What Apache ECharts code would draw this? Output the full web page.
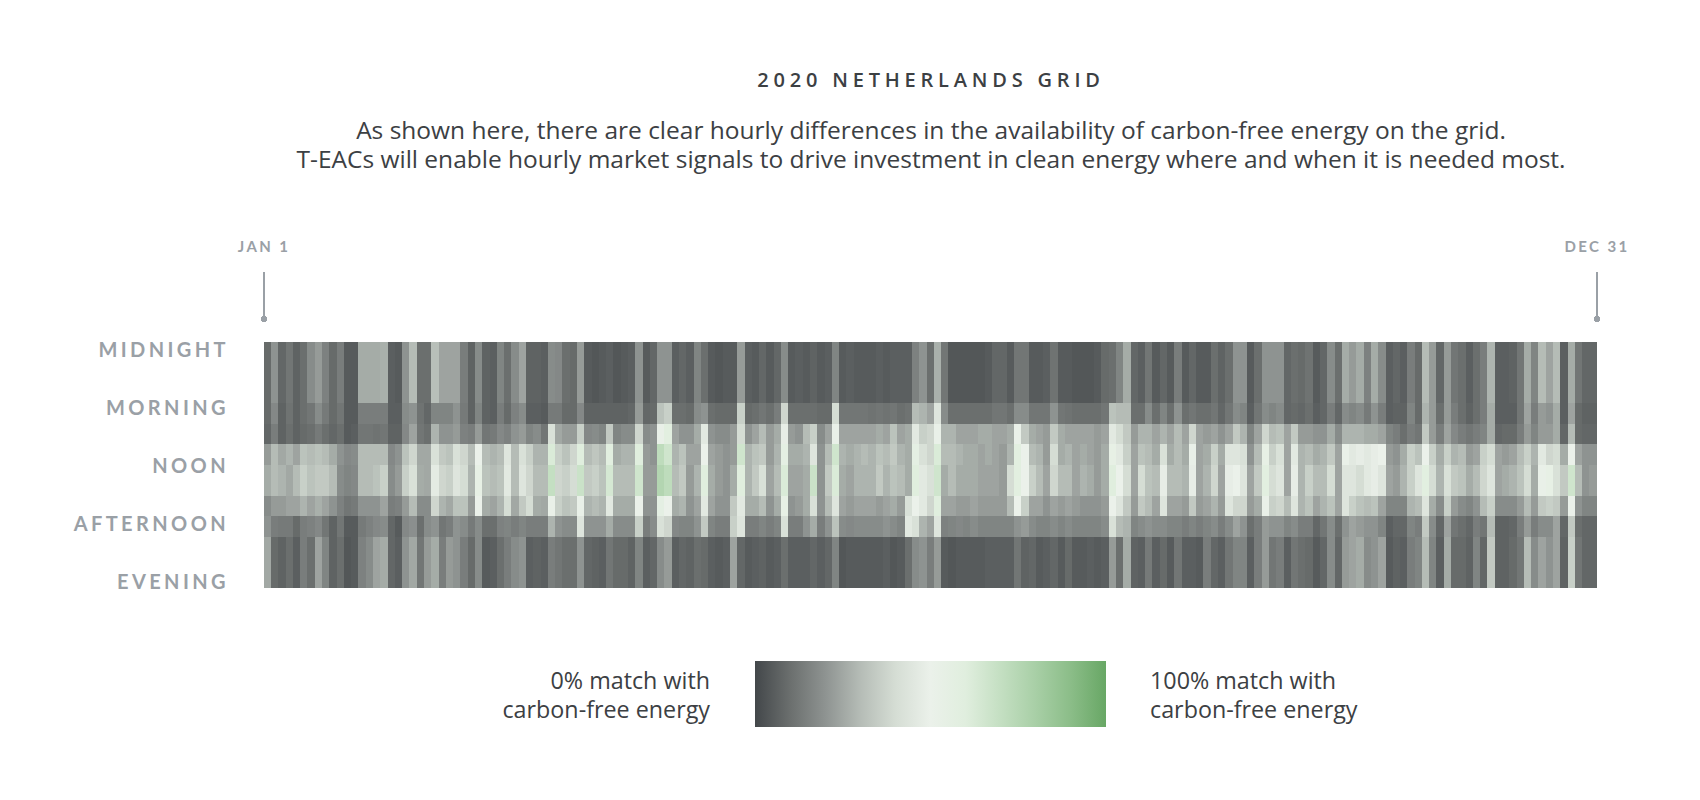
<!DOCTYPE html>
<html><head><meta charset="utf-8">
<style>html,body{margin:0;padding:0;background:#fff}#chart{width:1700px;height:800px}#chart svg path{shape-rendering:crispEdges}</style>
<script src="https://cdn.jsdelivr.net/npm/echarts@6/dist/echarts.min.js"></script>
</head><body><div id="chart"></div>
<script>
// Two-day columns across the year; values are % match.
const hours0to5=[
9,20,8,12,7,10,18,22,15,9,14,5,5,26,26,26,27,6,5,20,30,10,10,31,24,24,
24,14,7,18,7,6,16,10,18,24,7,7,6,18,17,10,9,22,5,4,5,6,4,5,6,20,
5,8,20,20,6,8,6,16,10,5,4,5,5,22,6,5,8,5,8,18,5,6,5,7,5,6,
16,5,6,5,5,5,6,5,6,6,6,15,20,10,27,12,4,4,4,4,4,5,8,8,5,12,
12,5,5,6,11,5,5,4,4,4,5,9,10,16,26,8,6,12,5,8,5,14,5,8,5,5,
10,7,10,20,20,5,10,20,20,20,8,10,9,11,5,8,18,10,26,22,26,15,26,18,6,8,
6,14,9,30,22,8,22,12,10,6,10,14,28,6,6,7,12,26,16,30,24,30,6,26,12,8,8];
const hours6to7=[
9,17,7,11,7,10,12,18,13,9,12,5,5,14,14,14,14,6,6,18,20,11,8,16,16,16,
20,13,7,16,7,6,14,9,15,18,6,6,5,13,13,9,9,17,7,7,7,7,7,7,8,22,
8,9,32,36,10,10,9,18,20,10,9,9,9,36,9,10,12,10,14,38,10,10,10,10,9,9,
40,12,12,12,12,11,12,11,12,10,11,30,28,24,44,18,10,10,10,10,10,10,12,12,10,18,
18,12,12,12,20,12,11,10,10,10,10,12,32,30,30,10,10,18,10,16,10,20,10,12,10,10,
12,8,12,18,16,6,12,18,16,18,8,9,8,10,6,8,14,8,18,16,18,13,20,14,6,7,
7,16,9,28,22,10,22,14,10,7,10,14,26,6,6,6,12,24,14,22,20,26,6,24,9,7,7];
const hours8to9=[
8,14,7,10,7,9,10,13,10,8,10,5,6,12,12,11,12,7,7,17,24,12,10,28,20,20,
22,15,14,22,12,13,17,15,20,22,16,18,12,42,25,22,22,36,17,18,16,34,16,18,18,38,
18,20,52,58,24,20,20,26,46,20,18,18,22,40,20,24,30,22,26,48,22,20,30,36,18,24,
52,24,24,24,24,24,26,24,32,24,26,46,36,38,52,28,28,24,24,24,26,26,24,24,26,52,
34,26,24,22,34,26,24,24,24,24,22,24,46,40,34,22,28,28,24,28,24,30,24,38,24,22,
24,20,24,34,28,16,24,38,30,32,24,34,22,22,20,20,26,18,28,28,28,26,26,24,16,14,
10,14,12,34,22,14,24,17,14,12,14,16,26,8,9,9,14,22,16,22,22,26,8,30,9,8,8];
const hours10to11=[
22,30,25,28,24,32,30,32,30,26,20,17,18,30,30,30,30,17,20,32,38,25,25,42,34,32,
42,38,30,50,30,28,30,44,30,42,36,28,28,62,36,32,38,60,30,33,30,58,26,28,28,60,
22,20,72,66,28,32,24,24,50,24,22,20,22,66,28,32,34,22,28,56,26,26,28,44,20,30,
66,28,26,28,30,28,32,30,34,28,26,56,42,38,62,30,30,28,26,26,24,26,24,22,28,58,
50,30,28,22,40,26,28,24,26,24,22,26,54,46,36,24,32,30,26,42,26,30,26,52,24,26,
36,26,44,44,42,20,30,54,36,42,24,46,28,30,26,28,34,24,52,46,48,46,48,50,22,20,
26,36,32,50,36,26,36,28,30,22,24,36,40,24,22,24,30,36,28,46,38,40,26,50,24,20,20];
const hours12to14=[
26,30,28,25,30,36,32,34,34,30,18,16,17,30,30,32,36,18,22,36,42,26,25,47,38,36,
44,40,28,54,32,30,32,46,30,44,38,30,30,70,38,36,40,68,34,36,32,64,30,30,30,66,
22,22,76,72,30,34,22,28,60,26,22,20,26,60,28,34,42,24,30,62,24,24,26,68,20,34,
62,26,24,28,28,28,34,28,32,30,26,60,46,42,66,26,30,26,26,26,24,24,24,22,40,58,
50,36,30,24,38,30,30,24,28,26,22,26,60,50,40,24,40,32,30,48,30,30,28,48,24,28,
38,24,48,50,44,24,34,58,40,44,24,48,28,36,30,30,40,24,44,44,40,46,48,44,24,22,
28,36,44,58,40,28,42,34,32,26,30,38,44,24,26,28,32,40,26,52,54,42,34,66,30,20,22];
const hours15to16=[
18,22,22,24,24,28,24,27,24,20,15,12,13,20,20,20,24,14,15,22,30,18,18,38,28,25,
32,32,22,50,26,24,28,40,25,34,40,26,25,52,36,32,34,52,28,30,28,46,26,26,26,50,
20,20,56,50,26,28,20,24,46,24,20,20,34,46,26,26,30,20,26,54,20,22,26,42,20,30,
44,24,22,24,24,24,22,24,26,22,42,50,46,38,60,24,24,22,22,24,22,22,22,22,30,50,
36,24,24,20,24,22,24,22,20,20,20,22,50,44,34,22,34,30,24,44,24,24,22,34,22,24,
28,22,44,38,38,22,26,52,36,38,30,44,28,32,24,28,32,24,44,36,32,30,32,24,16,16,
16,28,30,44,26,18,36,22,18,16,20,30,36,18,18,18,22,30,22,34,36,34,22,50,20,16,16];
const hours17to18=[
20,14,13,13,9,14,15,17,12,7,12,5,5,13,15,17,18,8,5,17,19,10,18,20,12,14,
20,18,13,18,10,10,15,16,14,16,14,14,14,28,20,18,18,44,20,20,20,26,18,18,18,36,
14,18,42,38,17,16,16,20,34,16,14,14,36,44,14,14,16,14,16,42,14,14,20,26,14,20,
32,18,17,18,18,18,18,20,18,16,46,42,28,24,44,15,16,17,16,18,16,16,16,16,16,20,
22,18,16,16,18,16,18,16,16,16,16,18,42,30,28,16,18,20,18,18,16,16,14,16,14,16,
18,14,18,24,20,10,14,22,20,20,16,18,14,14,8,12,18,10,20,24,22,20,20,16,6,8,
8,16,14,34,18,8,24,12,10,8,14,12,30,7,7,8,14,22,14,18,18,24,8,34,10,8,8];
const hours19to23=[
25,9,7,10,6,14,10,24,16,7,10,4,5,15,18,24,26,8,6,20,25,12,22,26,14,22,
20,14,9,18,5,6,10,14,18,20,6,7,6,14,12,10,10,20,8,7,6,12,9,9,7,16,
6,8,18,22,6,8,7,10,9,6,5,6,24,8,5,6,7,5,6,10,6,6,6,8,6,8,
16,4,5,5,5,5,5,6,4,5,10,18,20,14,22,5,4,5,5,5,5,6,6,6,6,12,
7,8,5,6,8,5,9,5,5,6,5,6,22,10,26,7,6,13,6,9,5,12,6,6,5,14,
8,6,12,16,16,6,14,22,12,14,6,12,10,9,5,8,18,8,22,24,26,18,20,24,5,7,
6,14,16,30,16,6,26,9,9,7,16,8,34,7,7,9,12,30,18,24,20,24,7,36,12,8,8];
const bands=[hours0to5,hours6to7,hours8to9,hours10to11,hours12to14,hours15to16,hours17to18,hours19to23];
const bandOfHour=[0,0,0,0,0,0,1,1,2,2,3,3,4,4,4,5,5,6,6,7,7,7,7,7];
const dayLabels=hours0to5.map((_,i)=>'d'+(i*2+1));
const hourLabels=bandOfHour.map((_,h)=>h+':00');
const timeLabels=['MIDNIGHT','MORNING','NOON','AFTERNOON','EVENING'];
const timeLabelPositions=[0.67,6.33,11.98,17.63,23.28];
const scaleColors=['#43474a','#6b6f6e','#8e9391','#b5bcb6','#d5ddd4','#ebf1ea','#e0eede','#c4dfc2','#a8cfa6','#8bbd88','#68a765'];
const cells=[];
bandOfHour.forEach((b,h)=>bands[b].forEach((v,d)=>cells.push([d,h,v])));

const GL=264,GR=1597,GT=342,GB=588,INK='#3c4043',GREY='#9aa0a6';
const chart=echarts.init(document.getElementById('chart'),null,{renderer:'svg'});
const txt=(text,x,y,align,font,weight,size,fill,lineHeight)=>({type:'text',x,y,style:{text,align,verticalAlign:'middle',fontFamily:font,fontWeight:weight,fontSize:size,fill,lineHeight}});
const pin=x=>[{type:'line',shape:{x1:x,y1:272,x2:x,y2:318},style:{stroke:GREY,lineWidth:1.5}},{type:'circle',shape:{cx:x,cy:319,r:3.4},style:{fill:GREY}}];
chart.setOption({
 animation:false,backgroundColor:'#fff',
 grid:{left:GL,top:GT,width:GR-GL,height:GB-GT,show:false},
 xAxis:{type:'category',data:dayLabels,show:false},
 yAxis:[
  {type:'category',data:hourLabels,inverse:true,show:false},
  {type:'value',inverse:true,min:0,max:24,position:'left',axisLine:{show:false},axisTick:{show:false},splitLine:{show:false},
   axisLabel:{customValues:timeLabelPositions,margin:35,fontFamily:'Lato',fontWeight:700,fontSize:20,color:GREY,
    formatter:v=>timeLabels[timeLabelPositions.indexOf(v)]||''}}
 ],
 visualMap:{type:'continuous',show:false,min:0,max:100,seriesIndex:0,inRange:{color:scaleColors}},
 series:[{type:'heatmap',data:cells,xAxisIndex:0,yAxisIndex:0,progressive:0,itemStyle:{borderWidth:0},emphasis:{disabled:true}}],
 graphic:[
  txt('2020 NETHERLANDS GRID',931,79,'center','Open Sans',600,20,INK),
  txt('As shown here, there are clear hourly differences in the availability of carbon-free energy on the grid.\nT-EACs will enable hourly market signals to drive investment in clean energy where and when it is needed most.',931,144,'center','Open Sans',400,24.5,INK,29),
  txt('JAN 1',GL,246,'center','Lato',700,15,GREY),
  txt('DEC 31',GR,246,'center','Lato',700,15,GREY),
  ...pin(GL),...pin(GR),
  {type:'rect',shape:{x:755,y:661,width:351,height:66},style:{fill:new echarts.graphic.LinearGradient(0,0,1,0,scaleColors.map((color,i)=>({offset:i/(scaleColors.length-1),color})))}},
  txt('0% match with\ncarbon-free energy',710,694,'right','Open Sans',400,23.3,INK,29),
  txt('100% match with\ncarbon-free energy',1150,694,'left','Open Sans',400,23.3,INK,29)
 ]
});
const spacing={'2020 NETHERLANDS GRID':'4.8px','JAN 1':'2.4px','DEC 31':'2.4px'};
timeLabels.forEach(t=>spacing[t]='3.4px');
const dom=document.getElementById('chart');
dom.querySelectorAll('text').forEach(t=>{const s=spacing[t.textContent.trim()];if(s)t.style.letterSpacing=s;});
</script></body></html>
